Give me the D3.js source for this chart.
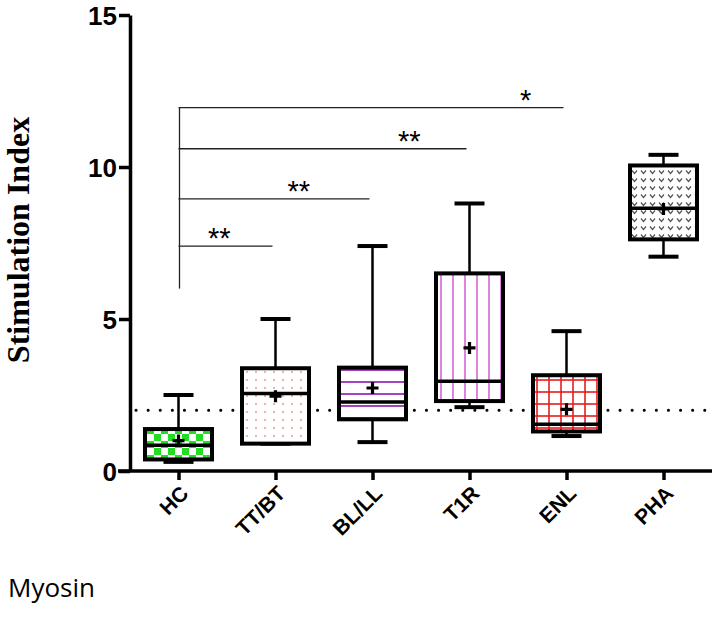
<!DOCTYPE html>
<html>
<head>
<meta charset="utf-8">
<script src="https://cdn.jsdelivr.net/npm/d3@7"></script>
<style>
  body { margin: 0; background: #fff; }
  svg { display: block; }
  .tick text { font-family: "Liberation Sans", Arial, sans-serif; font-weight: bold; fill: #000; }
</style>
</head>
<body>
<svg id="chart" width="716" height="630"></svg>
<script>
// groups and box summaries (stimulation index)
const categories = ["HC", "TT/BT", "BL/LL", "T1R", "ENL", "PHA"];
const mins    = [0.3, 0.9, 0.95, 2.1, 1.15, 7.05];
const q1s     = [0.38, 0.9, 1.7, 2.3, 1.3, 7.62];
const medians = [0.85, 2.55, 2.27, 2.95, 1.54, 8.64];
const q3s     = [1.38, 3.38, 3.4, 6.5, 3.15, 10.05];
const maxs    = [2.5, 5.0, 7.4, 8.8, 4.6, 10.4];
const means   = [1.0, 2.46, 2.73, 4.05, 2.03, 8.62];
const patterns = ["checker", "dots", "hlines", "vlines", "grid", "chevron"];

const yTicks = [0, 5, 10, 15];
const cutoff = 2;

// significance vs HC
const sigTargets = ["TT/BT", "BL/LL", "T1R", "ENL"];
const sigLevels  = [7.4, 8.95, 10.6, 11.95];
const sigLabels  = ["**", "**", "**", "*"];
const sigLabelAt = [0.42, 1.24, 2.38, 3.58]; // in category steps from HC
const sigBase = 6.0;

const svg = d3.select("#chart");

const y = d3.scaleLinear().domain([0, 15]).range([471, 15]);
const x = d3.scalePoint().domain(categories).range([130, 712]).padding(0.5);
const boxW = 67, capW = 30;

// fill patterns
const defs = svg.append("defs");
let p = defs.append("pattern").attr("id", "checker").attr("patternUnits", "userSpaceOnUse")
  .attr("width", 14).attr("height", 14);
p.append("rect").attr("width", 14).attr("height", 14).attr("fill", "#fff");
p.append("rect").attr("width", 7).attr("height", 7).attr("fill", "#22dd22");
p.append("rect").attr("x", 7).attr("y", 7).attr("width", 7).attr("height", 7).attr("fill", "#22dd22");

p = defs.append("pattern").attr("id", "dots").attr("patternUnits", "userSpaceOnUse")
  .attr("width", 9).attr("height", 8);
p.append("rect").attr("width", 9).attr("height", 8).attr("fill", "#fff");
p.append("circle").attr("cx", 4).attr("cy", 4).attr("r", 1).attr("fill", "#e29a9a");

p = defs.append("pattern").attr("id", "hlines").attr("patternUnits", "userSpaceOnUse")
  .attr("width", 12).attr("height", 12).attr("y", 4);
p.append("rect").attr("width", 12).attr("height", 12).attr("fill", "#fff");
p.append("line").attr("x1", 0).attr("x2", 12).attr("y1", 6).attr("y2", 6)
  .attr("stroke", "#9a2fb5").attr("stroke-width", 1.8);

p = defs.append("pattern").attr("id", "vlines").attr("patternUnits", "userSpaceOnUse")
  .attr("width", 12).attr("height", 12).attr("x", 3);
p.append("rect").attr("width", 12).attr("height", 12).attr("fill", "#fff");
p.append("line").attr("y1", 0).attr("y2", 12).attr("x1", 6).attr("x2", 6)
  .attr("stroke", "#d35ad3").attr("stroke-width", 1.5);

p = defs.append("pattern").attr("id", "grid").attr("patternUnits", "userSpaceOnUse")
  .attr("width", 12).attr("height", 12).attr("x", 3).attr("y", 2);
p.append("rect").attr("width", 12).attr("height", 12).attr("fill", "#fff");
p.append("line").attr("y1", 0).attr("y2", 12).attr("x1", 6).attr("x2", 6)
  .attr("stroke", "#e81c1c").attr("stroke-width", 1.6);
p.append("line").attr("x1", 0).attr("x2", 12).attr("y1", 6).attr("y2", 6)
  .attr("stroke", "#e81c1c").attr("stroke-width", 1.6);

p = defs.append("pattern").attr("id", "chevron").attr("patternUnits", "userSpaceOnUse")
  .attr("width", 9).attr("height", 8);
p.append("rect").attr("width", 9).attr("height", 8).attr("fill", "#fff");
p.append("path").attr("d", "M2,2.5 L4.5,5.5 L7,2.5").attr("fill", "none")
  .attr("stroke", "#555").attr("stroke-width", 1.2);

// cutoff line
svg.append("line")
  .attr("x1", 136).attr("x2", 716)
  .attr("y1", y(cutoff)).attr("y2", y(cutoff))
  .attr("stroke", "#000").attr("stroke-width", 3)
  .attr("stroke-linecap", "round")
  .attr("stroke-dasharray", "0.1 12");

// boxes
const g = svg.append("g").selectAll("g.box")
  .data(categories).enter().append("g").attr("class", "box");

g.append("line") // upper whisker
  .attr("x1", d => x(d)).attr("x2", d => x(d))
  .attr("y1", (d, i) => y(maxs[i])).attr("y2", (d, i) => y(q3s[i]))
  .attr("stroke", "#000").attr("stroke-width", 2.5);
g.append("line") // lower whisker
  .attr("x1", d => x(d)).attr("x2", d => x(d))
  .attr("y1", (d, i) => y(mins[i])).attr("y2", (d, i) => y(q1s[i]))
  .attr("stroke", "#000").attr("stroke-width", 2.5);
g.append("line")
  .attr("x1", d => x(d) - capW / 2).attr("x2", d => x(d) + capW / 2)
  .attr("y1", (d, i) => y(maxs[i])).attr("y2", (d, i) => y(maxs[i]))
  .attr("stroke", "#000").attr("stroke-width", 4);
g.append("line")
  .attr("x1", d => x(d) - capW / 2).attr("x2", d => x(d) + capW / 2)
  .attr("y1", (d, i) => y(mins[i])).attr("y2", (d, i) => y(mins[i]))
  .attr("stroke", "#000").attr("stroke-width", 4);

g.append("rect")
  .attr("x", d => x(d) - boxW / 2)
  .attr("width", boxW)
  .attr("y", (d, i) => y(q3s[i]))
  .attr("height", (d, i) => y(q1s[i]) - y(q3s[i]))
  .attr("fill", (d, i) => `url(#${patterns[i]})`)
  .attr("stroke", "#000").attr("stroke-width", 4);

g.append("line") // median
  .attr("x1", d => x(d) - boxW / 2).attr("x2", d => x(d) + boxW / 2)
  .attr("y1", (d, i) => y(medians[i])).attr("y2", (d, i) => y(medians[i]))
  .attr("stroke", "#000").attr("stroke-width", 3.5);

g.append("path") // mean
  .attr("d", (d, i) => {
    const cx = x(d), cy = y(means[i]);
    return `M${cx - 6},${cy}H${cx + 6}M${cx},${cy - 6}V${cy + 6}`;
  })
  .attr("stroke", "#000").attr("stroke-width", 3.2);

// significance brackets
const sig = svg.append("g");
sig.append("line")
  .attr("x1", x("HC") + 1).attr("x2", x("HC") + 1)
  .attr("y1", y(d3.max(sigLevels))).attr("y2", y(sigBase))
  .attr("stroke", "#222").attr("stroke-width", 1.3);
sig.selectAll("line.h").data(sigTargets).enter().append("line").attr("class", "h")
  .attr("x1", x("HC")).attr("x2", d => x(d) - 3)
  .attr("y1", (d, i) => y(sigLevels[i])).attr("y2", (d, i) => y(sigLevels[i]))
  .attr("stroke", "#222").attr("stroke-width", 1.3);
sig.selectAll("text").data(sigLabels).enter().append("text")
  .attr("x", (d, i) => x("HC") + sigLabelAt[i] * x.step())
  .attr("y", (d, i) => y(sigLevels[i]) + 2)
  .attr("text-anchor", "middle")
  .attr("font-family", "Liberation Sans, Arial, sans-serif")
  .attr("font-size", 29)
  .text(d => d);

// axes
const yAxis = svg.append("g")
  .attr("transform", "translate(130,0)")
  .call(d3.axisLeft(y).tickValues(yTicks).tickSize(11).tickSizeOuter(0).tickPadding(2));
yAxis.select(".domain").attr("stroke-width", 3.5);
yAxis.selectAll(".tick line").attr("stroke-width", 3.5);
yAxis.selectAll(".tick text").attr("font-size", 26).attr("dy", "0.36em");

const xAxis = svg.append("g")
  .attr("transform", "translate(0,471)")
  .call(d3.axisBottom(x).tickSize(9).tickSizeOuter(0));
xAxis.select(".domain").attr("stroke-width", 3.5).attr("d", "M118,0H712");
xAxis.selectAll(".tick line").attr("stroke-width", 3.5);
xAxis.selectAll(".tick text")
  .attr("font-size", 21)
  .attr("text-anchor", "end")
  .attr("dy", "0.35em")
  .attr("transform", "translate(-3,10) rotate(-45)");

// titles
svg.append("text")
  .attr("transform", "translate(29,240) rotate(-90)")
  .attr("text-anchor", "middle")
  .attr("font-family", "Liberation Serif, Times New Roman, serif")
  .attr("font-weight", "bold")
  .attr("font-size", 32)
  .text("Stimulation Index");

svg.append("text")
  .attr("x", 8).attr("y", 597)
  .attr("font-family", "Open Sans, sans-serif")
  .attr("font-size", 26)
  .text("Myosin");
</script>
</body>
</html>
